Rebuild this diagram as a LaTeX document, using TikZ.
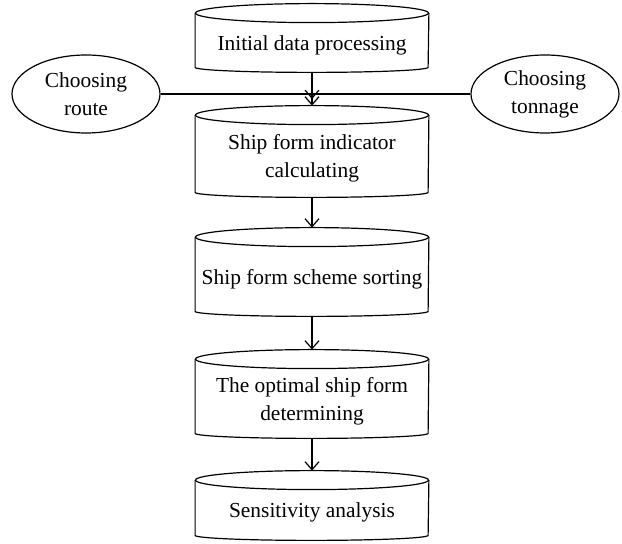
\documentclass[tikz,border=0pt]{standalone}
\usepackage{fontspec}
\setmainfont{Liberation Serif}
\usetikzlibrary{arrows.meta,shapes.geometric}
\begin{document}
\begin{tikzpicture}[
        x=0.5pt, y=-0.5pt,
        font=\fontsize{10.7}{14}\selectfont,
        stage/.style={rectangle, minimum width=116.5pt, inner sep=0pt, align=center},
        choice/.style={ellipse, draw, line width=0.6pt, minimum width=74pt, minimum height=39pt, inner sep=0pt, align=center},
        line/.style={draw, line width=0.6pt},
        flow/.style={line, -{Straight Barb[length=4pt,width=7pt]}}
    ]
        \useasboundingbox (0,0) rectangle (622,544);

        % Stages
        \node[stage, minimum height=22pt] (initial) at (312,45) {Initial data processing};
        \node[stage, minimum height=33.5pt] (indicator) at (312,158.5) {Ship form indicator\\calculating};
        \node[stage, minimum height=32pt] (sorting) at (312,279) {Ship form scheme sorting};
        \node[stage, minimum height=32pt] (optimal) at (312,401) {The optimal ship form\\determining};
        \node[stage, minimum height=22.5pt] (sensitivity) at (312,512.5) {Sensitivity analysis};

        % Drum outlines
        \foreach \n in {initial,indicator,sorting,optimal,sensitivity}{
            \draw[line] ([yshift=4.75pt]\n.north) ellipse [x radius=58.25pt, y radius=4.75pt];
            \draw[line] ([yshift=4.75pt]\n.north west) -- (\n.south west)
                arc [start angle=180, end angle=360, x radius=58.25pt, y radius=2.5pt]
                -- ([yshift=4.75pt]\n.north east);
        }

        % Inputs
        \node[choice] (route) at (86,94) {Choosing\\route};
        \node[choice] (tonnage) at (545,94) {Choosing\\tonnage};
        \coordinate (join) at (312,99);

        % Connections
        \draw[line] (route) -- (tonnage);
        \draw[flow] ([yshift=-2.5pt]initial.south) -- (join);
        \draw[flow] ([yshift=-2.5pt]initial.south) -- ([yshift=9.5pt]indicator.north);
        \draw[flow] ([yshift=-2.5pt]indicator.south) -- ([yshift=9.5pt]sorting.north);
        \draw[flow] ([yshift=-2.5pt]sorting.south) -- ([yshift=9.5pt]optimal.north);
        \draw[flow] ([yshift=-2.5pt]optimal.south) -- ([yshift=9.5pt]sensitivity.north);
    \end{tikzpicture}
\end{document}
